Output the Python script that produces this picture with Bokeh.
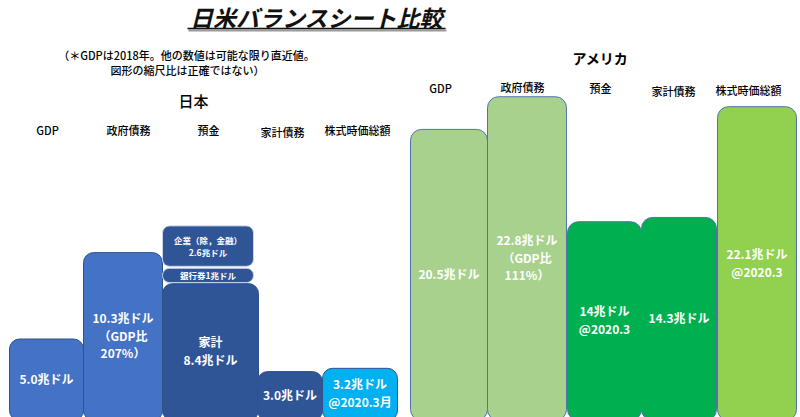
from bokeh.plotting import figure
from bokeh.models import Range1d, ColumnDataSource
from bokeh.core.properties import value
from bokeh.embed import file_html
from bokeh.resources import INLINE

# ---------------- data (trillion US dollars) ----------------
categories = ["GDP", "政府債務", "預金", "家計債務", "株式時価総額"]

jp_values = [5.0, 10.3, 8.4, 3.0, 3.2]          # GDP, gov debt, deposits(household), household debt, stock mkt cap
jp_deposit_parts = ["家計", "銀行券", "企業（除，金融）"]
jp_deposit_values = [8.4, 1.0, 2.6]
jp_gov_debt_pct = 207

us_values = [20.5, 22.8, 14.0, 14.3, 22.1]
us_gov_debt_pct = 111

jp_labels = ["5.0兆ドル", "10.3兆ドル\n（GDP比\n207%）", "家計\n8.4兆ドル", "3.0兆ドル", "3.2兆ドル\n@2020.3月"]
jp_deposit_labels = ["", "銀行券1兆ドル", "企業（除，金融）\n2.6兆ドル"]
us_labels = ["20.5兆ドル", "22.8兆ドル\n（GDP比\n111%）", "14兆ドル\n@2020.3", "14.3兆ドル", "22.1兆ドル\n@2020.3"]

title_text = "日米バランスシート比較"
note_lines = ["（＊GDPは2018年。他の数値は可能な限り直近値。", "図形の縮尺比は正確ではない）"]
jp_name = "日本"
us_name = "アメリカ"

# ---------------- layout (reference-pixel space) ----------------
W, H = 800, 417
OFF = 0
BASE = 420.0            # pixel row of the value 0
JP_S = 16.3             # pixels per trillion (Japan, not to scale)
US_S = 14.2             # pixels per trillion (US, not to scale)
VIS_BOTTOM = 417.0

jp_left = [9, 83, 162, 257, 322]
jp_right = [83, 162, 258, 322, 397]
jp_stack_left, jp_stack_right = 162, 253
us_left = [410, 487, 567, 641, 717]
us_right = [487, 566, 641, 716, 796]

jp_header_x = [47, 128, 208, 282, 357]
jp_header_y = [129, 129, 129, 131, 129]
us_header_x = [440, 522, 600, 673, 748]
us_header_y = [87, 86, 87, 90, 89]

jp_fill = ["#4472C4", "#4472C4", "#2F5597", "#2F5597", "#00B0F0"]
us_fill = ["#A9D18E", "#A9D18E", "#00B050", "#00B050", "#92D050"]

FONT = value("Noto Sans CJK JP")
FONT_MED = value("'Noto Sans CJK JP Medium', 'Noto Sans CJK JP'")

p = figure(width=W, height=H, output_backend="svg", toolbar_location=None,
           x_range=Range1d(OFF, OFF + W), y_range=Range1d(OFF + H, OFF),
           min_border=0, x_axis_location=None, y_axis_location=None,
           background_fill_color="white", border_fill_color="white",
           outline_line_color=None)
p.grid.visible = False
p.extra_y_ranges = {
    "jp": Range1d((BASE - (OFF + H)) / JP_S, (BASE - OFF) / JP_S),
    "us": Range1d((BASE - (OFF + H)) / US_S, (BASE - OFF) / US_S),
}

jp_vis0 = (BASE - VIS_BOTTOM) / JP_S
us_vis0 = (BASE - VIS_BOTTOM) / US_S

# Japan boxes
for i, v in enumerate(jp_values):
    p.quad(left=[jp_left[i]], right=[jp_right[i]], bottom=[0], top=[v],
           fill_color=jp_fill[i], line_color="#2F528F", line_width=1,
           border_radius=10, y_range_name="jp")

# Japan deposit stack (upper parts)
bottoms = []
acc = 0.0
for dv in jp_deposit_values:
    bottoms.append(acc)
    acc += dv
for k in range(1, len(jp_deposit_values)):
    b = bottoms[k]
    t = b + jp_deposit_values[k]
    p.quad(left=[jp_stack_left], right=[jp_stack_right], bottom=[b + 0.06], top=[t - 0.06],
           fill_color="#2F5597", line_color="#C9D3E6", line_width=1,
           border_radius=7, y_range_name="jp")

# US boxes
for i, v in enumerate(us_values):
    p.quad(left=[us_left[i]], right=[us_right[i]], bottom=[0], top=[v],
           fill_color=us_fill[i], line_color="#4F72B0", line_width=1,
           border_radius=11, y_range_name="us")

# value labels inside boxes
jp_src = ColumnDataSource(dict(
    x=[(l + r) / 2 for l, r in zip(jp_left, jp_right)],
    y=[(v + jp_vis0) / 2 for v in jp_values],
    t=jp_labels))
p.text("x", "y", "t", source=jp_src, y_range_name="jp", text_font=FONT,
       text_font_style="bold", text_font_size="12px", text_color="white",
       text_align="center", text_baseline="middle", text_line_height=1.05)

dep_src = ColumnDataSource(dict(
    x=[(jp_stack_left + jp_stack_right) / 2] * 2,
    y=[bottoms[k] + jp_deposit_values[k] / 2 for k in (1, 2)],
    t=[jp_deposit_labels[1], jp_deposit_labels[2]]))
p.text("x", "y", "t", source=dep_src, y_range_name="jp", text_font=FONT,
       text_font_style="bold", text_font_size="8.5px", text_color="white",
       text_align="center", text_baseline="middle", text_line_height=1.05)

us_src = ColumnDataSource(dict(
    x=[(l + r) / 2 for l, r in zip(us_left, us_right)],
    y=[(v + us_vis0) / 2 for v in us_values],
    t=us_labels))
p.text("x", "y", "t", source=us_src, y_range_name="us", text_font=FONT,
       text_font_style="bold", text_font_size="12px", text_color="white",
       text_align="center", text_baseline="middle", text_line_height=1.05)

# headers
p.text(x=jp_header_x, y=jp_header_y, text=categories, text_font=FONT_MED,
       text_font_size="11px", text_color="#000000", text_align="center",
       text_baseline="middle")
p.text(x=us_header_x, y=us_header_y, text=categories, text_font=FONT_MED,
       text_font_size="11px", text_color="#000000", text_align="center",
       text_baseline="middle")

# country names
p.text(x=[193], y=[100], text=[jp_name], text_font=FONT_MED, text_font_size="15px",
       text_color="#000000", text_align="center", text_baseline="middle")
p.text(x=[600], y=[57], text=[us_name], text_font=FONT, text_font_size="14px",
       text_font_style="bold", text_color="#000000", text_align="center",
       text_baseline="middle")

# note
p.text(x=[186, 187], y=[54, 69], text=note_lines, text_font=FONT_MED,
       text_font_size="11px", text_color="#000000", text_align="center",
       text_baseline="middle")

# title with underline + shadow
p.text(x=[316], y=[16], text=[title_text], text_font=FONT, text_font_size="23px",
       text_font_style="bold italic", text_color="#111111", text_align="center",
       text_baseline="middle")
p.segment(x0=[188], y0=[30], x1=[446], y1=[30], line_color="#9A9A9A", line_width=2)
p.segment(x0=[187], y0=[28], x1=[445], y1=[28], line_color="#111111", line_width=1.5)

open("out.html", "w").write(file_html(p, INLINE))
